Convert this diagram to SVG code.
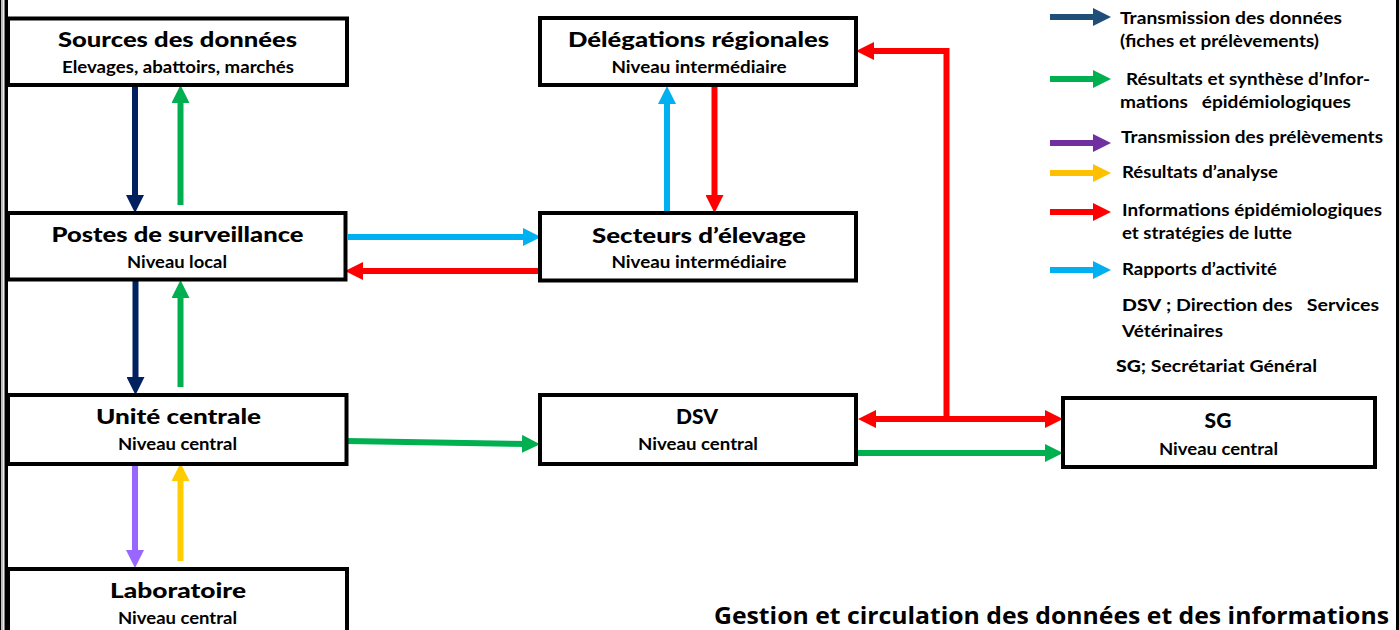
<svg xmlns="http://www.w3.org/2000/svg" width="1399" height="630" viewBox="0 0 1399 630">
<style>
.box{fill:#fff;stroke:#000;stroke-width:4}
.t{font-family:Lato,"Liberation Sans",sans-serif;font-weight:900;font-size:21px;fill:#000;text-anchor:middle}
.s{font-family:Lato,"Liberation Sans",sans-serif;font-weight:700;font-size:17px;fill:#000;text-anchor:middle}
.l{font-family:Lato,"Liberation Sans",sans-serif;font-weight:700;font-size:17px;fill:#000}
.b{font-weight:900}
.ar{fill:none;stroke-width:6}
.gt{font-family:"Open Sans","Liberation Sans",sans-serif;font-weight:700;font-size:24px;fill:#000}
</style>
<defs>
<marker id="mNavy" markerUnits="userSpaceOnUse" markerWidth="18" markerHeight="18" refX="8" refY="9" orient="auto"><path d="M0,0L18,9L0,18z" fill="#002060"/></marker>
<marker id="mBlue" markerUnits="userSpaceOnUse" markerWidth="18" markerHeight="18" refX="8" refY="9" orient="auto"><path d="M0,0L18,9L0,18z" fill="#1F4E79"/></marker>
<marker id="mGreen" markerUnits="userSpaceOnUse" markerWidth="18" markerHeight="18" refX="8" refY="9" orient="auto"><path d="M0,0L18,9L0,18z" fill="#00B050"/></marker>
<marker id="mPurple" markerUnits="userSpaceOnUse" markerWidth="18" markerHeight="18" refX="8" refY="9" orient="auto"><path d="M0,0L18,9L0,18z" fill="#9966FF"/></marker>
<marker id="mPurpleD" markerUnits="userSpaceOnUse" markerWidth="18" markerHeight="18" refX="8" refY="9" orient="auto"><path d="M0,0L18,9L0,18z" fill="#7030A0"/></marker>
<marker id="mYellow" markerUnits="userSpaceOnUse" markerWidth="18" markerHeight="18" refX="8" refY="9" orient="auto"><path d="M0,0L18,9L0,18z" fill="#FFCC00"/></marker>
<marker id="mYellowL" markerUnits="userSpaceOnUse" markerWidth="18" markerHeight="18" refX="8" refY="9" orient="auto"><path d="M0,0L18,9L0,18z" fill="#FFC000"/></marker>
<marker id="mRed" markerUnits="userSpaceOnUse" markerWidth="18" markerHeight="18" refX="8" refY="9" orient="auto"><path d="M0,0L18,9L0,18z" fill="#FF0000"/></marker>
<marker id="mRedS" markerUnits="userSpaceOnUse" markerWidth="18" markerHeight="18" refX="10" refY="9" orient="auto-start-reverse"><path d="M0,0L18,9L0,18z" fill="#FF0000"/></marker>
<marker id="mCyan" markerUnits="userSpaceOnUse" markerWidth="18" markerHeight="18" refX="8" refY="9" orient="auto"><path d="M0,0L18,9L0,18z" fill="#00B0F0"/></marker>
</defs>
<rect width="1399" height="630" fill="#fff"/>
<g id="frame">
<rect x="0" y="0" width="1.3" height="630" fill="#000"/>
<rect x="1.3" y="0" width="2" height="630" fill="#c0c0c0"/>
<rect x="4.5" y="0" width="3.5" height="630" fill="#000"/>
<rect x="1396" y="0" width="3" height="630" fill="#000"/>
</g>
<g id="connectors">
<line class="ar" x1="135" y1="87" x2="135" y2="203" stroke="#002060" marker-end="url(#mNavy)"/>
<line class="ar" x1="180.5" y1="205" x2="180.5" y2="95" stroke="#00B050" marker-end="url(#mGreen)"/>
<line class="ar" x1="135.5" y1="281" x2="135.5" y2="385" stroke="#002060" marker-end="url(#mNavy)"/>
<line class="ar" x1="180.5" y1="387" x2="180.5" y2="290" stroke="#00B050" marker-end="url(#mGreen)"/>
<line class="ar" x1="135" y1="465" x2="135" y2="558" stroke="#9966FF" marker-end="url(#mPurple)"/>
<line class="ar" x1="180.5" y1="561" x2="180.5" y2="473" stroke="#FFCC00" marker-end="url(#mYellow)"/>
<line class="ar" x1="348" y1="237" x2="531" y2="237" stroke="#00B0F0" marker-end="url(#mCyan)"/>
<line class="ar" x1="540" y1="271" x2="355" y2="271" stroke="#FF0000" marker-end="url(#mRed)"/>
<line class="ar" x1="667" y1="211" x2="667" y2="96" stroke="#00B0F0" marker-end="url(#mCyan)"/>
<line class="ar" x1="714.5" y1="87" x2="714.5" y2="203" stroke="#FF0000" marker-end="url(#mRed)"/>
<line class="ar" x1="347" y1="441" x2="530" y2="444" stroke="#00B050" marker-end="url(#mGreen)"/>
<polyline class="ar" points="946.5,419 946.5,51 866,51" stroke="#FF0000" marker-end="url(#mRed)"/>
<line class="ar" x1="866" y1="419" x2="1053" y2="419" stroke="#FF0000" marker-start="url(#mRedS)" marker-end="url(#mRed)"/>
<line class="ar" x1="857" y1="453" x2="1053" y2="453" stroke="#00B050" marker-end="url(#mGreen)"/>
</g>
<g id="sources">
<rect class="box" x="8" y="18.5" width="339" height="66.5"/>
<text class="t" x="177.5" y="47" textLength="239" lengthAdjust="spacingAndGlyphs">Sources des données</text>
<text class="s" x="178" y="73" textLength="232" lengthAdjust="spacingAndGlyphs">Elevages, abattoirs, marchés</text>
</g>
<g id="postes">
<rect class="box" x="8" y="213" width="337.5" height="66.5"/>
<text class="t" x="177.5" y="242" textLength="252" lengthAdjust="spacingAndGlyphs">Postes de surveillance</text>
<text class="s" x="177" y="268" textLength="100" lengthAdjust="spacingAndGlyphs">Niveau local</text>
</g>
<g id="unite">
<rect class="box" x="8" y="395" width="338.5" height="69"/>
<text class="t" x="178.5" y="424" textLength="165" lengthAdjust="spacingAndGlyphs">Unité centrale</text>
<text class="s" x="177.5" y="450" textLength="119" lengthAdjust="spacingAndGlyphs">Niveau central</text>
</g>
<g id="laboratoire">
<rect class="box" x="8" y="569" width="339" height="80"/>
<text class="t" x="178" y="598" textLength="136" lengthAdjust="spacingAndGlyphs">Laboratoire</text>
<text class="s" x="177.5" y="624" textLength="119" lengthAdjust="spacingAndGlyphs">Niveau central</text>
</g>
<g id="delegations">
<rect class="box" x="540" y="18" width="316" height="67"/>
<text class="t" x="698.5" y="47" textLength="261" lengthAdjust="spacingAndGlyphs">Délégations régionales</text>
<text class="s" x="699" y="73" textLength="175" lengthAdjust="spacingAndGlyphs">Niveau intermédiaire</text>
</g>
<g id="secteurs">
<rect class="box" x="540" y="213" width="316" height="67.5"/>
<text class="t" x="699" y="243" textLength="214" lengthAdjust="spacingAndGlyphs">Secteurs d’élevage</text>
<text class="s" x="699" y="268" textLength="175" lengthAdjust="spacingAndGlyphs">Niveau intermédiaire</text>
</g>
<g id="dsv">
<rect class="box" x="540" y="395" width="316" height="69"/>
<text class="t" x="697" y="424">DSV</text>
<text class="s" x="698" y="450" textLength="120" lengthAdjust="spacingAndGlyphs">Niveau central</text>
</g>
<g id="sg">
<rect class="box" x="1063" y="398" width="312" height="69"/>
<text class="t" x="1218" y="428">SG</text>
<text class="s" x="1218.5" y="455" textLength="119" lengthAdjust="spacingAndGlyphs">Niveau central</text>
</g>
<g id="legend">
<line class="ar" x1="1050" y1="17" x2="1101" y2="17" stroke="#1F4E79" marker-end="url(#mBlue)"/>
<line class="ar" x1="1050" y1="79" x2="1101" y2="79" stroke="#00B050" marker-end="url(#mGreen)"/>
<line class="ar" x1="1050" y1="143" x2="1101" y2="143" stroke="#7030A0" marker-end="url(#mPurpleD)"/>
<line class="ar" x1="1050" y1="173" x2="1101" y2="173" stroke="#FFC000" marker-end="url(#mYellowL)"/>
<line class="ar" x1="1050" y1="212" x2="1101" y2="212" stroke="#FF0000" marker-end="url(#mRed)"/>
<line class="ar" x1="1050" y1="270" x2="1101" y2="270" stroke="#00B0F0" marker-end="url(#mCyan)"/>
<text class="l" x="1120" y="24" textLength="222" lengthAdjust="spacingAndGlyphs">Transmission des données</text>
<text class="l" x="1120" y="47" textLength="199" lengthAdjust="spacingAndGlyphs">(fiches et prélèvements)</text>
<text class="l" x="1126" y="85" textLength="244" lengthAdjust="spacingAndGlyphs">Résultats et synthèse d’Infor-</text>
<text class="l" x="1120" y="108" textLength="231" lengthAdjust="spacingAndGlyphs" xml:space="preserve">mations   épidémiologiques</text>
<text class="l" x="1121" y="143" textLength="262" lengthAdjust="spacingAndGlyphs">Transmission des prélèvements</text>
<text class="l" x="1122" y="178" textLength="156" lengthAdjust="spacingAndGlyphs">Résultats d’analyse</text>
<text class="l" x="1122" y="216" textLength="260" lengthAdjust="spacingAndGlyphs">Informations épidémiologiques</text>
<text class="l" x="1122" y="239" textLength="170" lengthAdjust="spacingAndGlyphs">et stratégies de lutte</text>
<text class="l" x="1122" y="275" textLength="155" lengthAdjust="spacingAndGlyphs">Rapports d’activité</text>
<text class="l" x="1122" y="311" textLength="257" lengthAdjust="spacingAndGlyphs" xml:space="preserve"><tspan class="b">DSV</tspan> ; Direction des   Services</text>
<text class="l" x="1122" y="337" textLength="101" lengthAdjust="spacingAndGlyphs">Vétérinaires</text>
<text class="l" x="1116" y="372" textLength="201" lengthAdjust="spacingAndGlyphs"><tspan class="b">SG</tspan>; Secrétariat Général</text>
</g>
<g id="caption">
<text class="gt" x="714" y="624" textLength="675" lengthAdjust="spacingAndGlyphs">Gestion et circulation des données et des informations</text>
</g>
</svg>
